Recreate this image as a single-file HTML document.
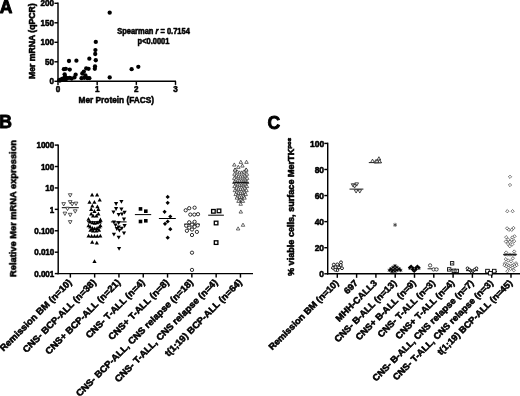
<!DOCTYPE html>
<html><head><meta charset="utf-8"><title>Figure</title>
<style>
html,body{margin:0;padding:0;background:#fff;}
svg{display:block;}
svg text{font-family:"Liberation Sans",Arial,sans-serif;font-weight:bold;fill:#000;stroke:#000;stroke-width:0.55px;stroke-linejoin:round;}
</style></head><body>
<svg width="520" height="396" viewBox="0 0 520 396">
<defs><filter id="soft" x="-5%" y="-5%" width="110%" height="110%"><feGaussianBlur stdDeviation="0.32"/></filter></defs>
<rect width="520" height="396" fill="#fff"/>
<g filter="url(#soft)">
<text transform="translate(-0.20,12.80) scale(0.9709,1)" font-size="18.13" text-anchor="start" style="stroke-width:0.9px">A</text>
<line x1="58.00" y1="2.57" x2="58.00" y2="82.02" stroke="#000" stroke-width="1.45"/>
<line x1="57.27" y1="81.30" x2="176.03" y2="81.30" stroke="#000" stroke-width="1.45"/>
<line x1="54.40" y1="81.30" x2="58.00" y2="81.30" stroke="#000" stroke-width="1.45"/>
<text transform="translate(54.10,84.00) scale(0.9091,1)" font-size="8.91" text-anchor="end" >0</text>
<line x1="54.40" y1="61.80" x2="58.00" y2="61.80" stroke="#000" stroke-width="1.45"/>
<text transform="translate(54.10,64.50) scale(0.9091,1)" font-size="8.91" text-anchor="end" >50</text>
<line x1="54.40" y1="42.30" x2="58.00" y2="42.30" stroke="#000" stroke-width="1.45"/>
<text transform="translate(54.10,45.00) scale(0.9091,1)" font-size="8.91" text-anchor="end" >100</text>
<line x1="54.40" y1="22.80" x2="58.00" y2="22.80" stroke="#000" stroke-width="1.45"/>
<text transform="translate(54.10,25.50) scale(0.9091,1)" font-size="8.91" text-anchor="end" >150</text>
<line x1="54.40" y1="3.30" x2="58.00" y2="3.30" stroke="#000" stroke-width="1.45"/>
<text transform="translate(54.10,6.00) scale(0.9091,1)" font-size="8.91" text-anchor="end" >200</text>
<line x1="58.00" y1="81.30" x2="58.00" y2="84.90" stroke="#000" stroke-width="1.45"/>
<text transform="translate(58.00,92.30) scale(0.9091,1)" font-size="8.91" text-anchor="middle" >0</text>
<line x1="97.17" y1="81.30" x2="97.17" y2="84.90" stroke="#000" stroke-width="1.45"/>
<text transform="translate(97.17,92.30) scale(0.9091,1)" font-size="8.91" text-anchor="middle" >1</text>
<line x1="136.34" y1="81.30" x2="136.34" y2="84.90" stroke="#000" stroke-width="1.45"/>
<text transform="translate(136.34,92.30) scale(0.9091,1)" font-size="8.91" text-anchor="middle" >2</text>
<line x1="175.51" y1="81.30" x2="175.51" y2="84.90" stroke="#000" stroke-width="1.45"/>
<text transform="translate(175.51,92.30) scale(0.9091,1)" font-size="8.91" text-anchor="middle" >3</text>
<text transform="translate(116.30,103.40) scale(0.9091,1)" font-size="9.13" text-anchor="middle" >Mer Protein (FACS)</text>
<text transform="translate(34.60,41.20) rotate(-90) scale(1.0309,1)" font-size="8.39" text-anchor="middle" >Mer mRNA (qPCR)</text>
<text transform="translate(153.50,33.60) scale(0.9091,1)" font-size="8.25" text-anchor="middle" >Spearman <tspan font-style="italic">r</tspan> = 0.7154</text>
<text transform="translate(153.50,43.60) scale(0.9091,1)" font-size="8.25" text-anchor="middle" >p&lt;0.0001</text>
<circle cx="109.70" cy="12.66" r="2.15" fill="#000" stroke="none" stroke-width="0"/>
<circle cx="109.70" cy="77.40" r="2.15" fill="#000" stroke="none" stroke-width="0"/>
<circle cx="131.64" cy="69.21" r="2.15" fill="#000" stroke="none" stroke-width="0"/>
<circle cx="138.30" cy="66.87" r="2.15" fill="#000" stroke="none" stroke-width="0"/>
<circle cx="95.80" cy="41.91" r="2.15" fill="#000" stroke="none" stroke-width="0"/>
<circle cx="95.41" cy="50.10" r="2.15" fill="#000" stroke="none" stroke-width="0"/>
<circle cx="95.21" cy="54.00" r="2.15" fill="#000" stroke="none" stroke-width="0"/>
<circle cx="95.80" cy="60.24" r="2.15" fill="#000" stroke="none" stroke-width="0"/>
<circle cx="95.02" cy="66.48" r="2.15" fill="#000" stroke="none" stroke-width="0"/>
<circle cx="94.82" cy="68.82" r="2.15" fill="#000" stroke="none" stroke-width="0"/>
<circle cx="89.34" cy="58.68" r="2.15" fill="#000" stroke="none" stroke-width="0"/>
<circle cx="76.41" cy="60.63" r="2.15" fill="#000" stroke="none" stroke-width="0"/>
<circle cx="68.97" cy="61.02" r="2.15" fill="#000" stroke="none" stroke-width="0"/>
<circle cx="63.88" cy="69.21" r="2.15" fill="#000" stroke="none" stroke-width="0"/>
<circle cx="65.83" cy="68.82" r="2.15" fill="#000" stroke="none" stroke-width="0"/>
<circle cx="69.75" cy="69.60" r="2.15" fill="#000" stroke="none" stroke-width="0"/>
<circle cx="86.20" cy="68.43" r="2.15" fill="#000" stroke="none" stroke-width="0"/>
<circle cx="88.55" cy="68.82" r="2.15" fill="#000" stroke="none" stroke-width="0"/>
<circle cx="82.29" cy="73.50" r="2.15" fill="#000" stroke="none" stroke-width="0"/>
<circle cx="83.85" cy="71.55" r="2.15" fill="#000" stroke="none" stroke-width="0"/>
<circle cx="85.42" cy="75.45" r="2.15" fill="#000" stroke="none" stroke-width="0"/>
<circle cx="64.66" cy="74.28" r="2.15" fill="#000" stroke="none" stroke-width="0"/>
<circle cx="65.05" cy="76.62" r="2.15" fill="#000" stroke="none" stroke-width="0"/>
<circle cx="75.63" cy="74.67" r="2.15" fill="#000" stroke="none" stroke-width="0"/>
<circle cx="74.45" cy="77.40" r="2.15" fill="#000" stroke="none" stroke-width="0"/>
<circle cx="69.75" cy="77.79" r="2.15" fill="#000" stroke="none" stroke-width="0"/>
<circle cx="67.40" cy="78.18" r="2.15" fill="#000" stroke="none" stroke-width="0"/>
<circle cx="62.70" cy="78.57" r="2.15" fill="#000" stroke="none" stroke-width="0"/>
<circle cx="61.13" cy="79.35" r="2.15" fill="#000" stroke="none" stroke-width="0"/>
<circle cx="59.18" cy="80.13" r="2.15" fill="#000" stroke="none" stroke-width="0"/>
<circle cx="81.50" cy="78.18" r="2.15" fill="#000" stroke="none" stroke-width="0"/>
<circle cx="87.38" cy="78.18" r="2.15" fill="#000" stroke="none" stroke-width="0"/>
<circle cx="89.34" cy="78.18" r="2.15" fill="#000" stroke="none" stroke-width="0"/>
<circle cx="71.71" cy="78.57" r="2.15" fill="#000" stroke="none" stroke-width="0"/>
<circle cx="65.83" cy="79.35" r="2.15" fill="#000" stroke="none" stroke-width="0"/>
<circle cx="63.88" cy="79.74" r="2.15" fill="#000" stroke="none" stroke-width="0"/>
<circle cx="59.96" cy="80.52" r="2.15" fill="#000" stroke="none" stroke-width="0"/>
<circle cx="84.24" cy="77.79" r="2.15" fill="#000" stroke="none" stroke-width="0"/>
<text transform="translate(-0.80,128.40) scale(0.9709,1)" font-size="18.13" text-anchor="start" style="stroke-width:0.9px">B</text>
<line x1="58.20" y1="144.38" x2="58.20" y2="274.33" stroke="#000" stroke-width="1.45"/>
<line x1="57.48" y1="273.60" x2="253.00" y2="273.60" stroke="#000" stroke-width="1.45"/>
<line x1="54.80" y1="145.10" x2="58.20" y2="145.10" stroke="#000" stroke-width="1.45"/>
<text transform="translate(54.30,148.40) scale(0.9091,1)" font-size="8.86" text-anchor="end" >1000</text>
<line x1="54.80" y1="166.52" x2="58.20" y2="166.52" stroke="#000" stroke-width="1.45"/>
<text transform="translate(54.30,169.82) scale(0.9091,1)" font-size="8.86" text-anchor="end" >100</text>
<line x1="54.80" y1="187.93" x2="58.20" y2="187.93" stroke="#000" stroke-width="1.45"/>
<text transform="translate(54.30,191.23) scale(0.9091,1)" font-size="8.86" text-anchor="end" >10</text>
<line x1="54.80" y1="209.35" x2="58.20" y2="209.35" stroke="#000" stroke-width="1.45"/>
<text transform="translate(54.30,212.65) scale(0.9091,1)" font-size="8.86" text-anchor="end" >1</text>
<line x1="54.80" y1="230.77" x2="58.20" y2="230.77" stroke="#000" stroke-width="1.45"/>
<text transform="translate(54.30,234.07) scale(0.9091,1)" font-size="8.86" text-anchor="end" >0.100</text>
<line x1="54.80" y1="252.18" x2="58.20" y2="252.18" stroke="#000" stroke-width="1.45"/>
<text transform="translate(54.30,255.48) scale(0.9091,1)" font-size="8.86" text-anchor="end" >0.010</text>
<line x1="54.80" y1="273.60" x2="58.20" y2="273.60" stroke="#000" stroke-width="1.45"/>
<text transform="translate(54.30,276.90) scale(0.9091,1)" font-size="8.86" text-anchor="end" >0.001</text>
<line x1="70.35" y1="273.60" x2="70.35" y2="277.60" stroke="#000" stroke-width="1.45"/>
<text transform="translate(72.35,283.00) rotate(-45) scale(1.0417,1)" font-size="9.22" text-anchor="end" >Remission BM (n=10)</text>
<line x1="94.65" y1="273.60" x2="94.65" y2="277.60" stroke="#000" stroke-width="1.45"/>
<text transform="translate(96.65,283.00) rotate(-45) scale(1.0417,1)" font-size="9.22" text-anchor="end" >CNS- BCP-ALL (n=38)</text>
<line x1="118.95" y1="273.60" x2="118.95" y2="277.60" stroke="#000" stroke-width="1.45"/>
<text transform="translate(120.95,283.00) rotate(-45) scale(1.0417,1)" font-size="9.22" text-anchor="end" >CNS+ BCP-ALL (n=21)</text>
<line x1="143.25" y1="273.60" x2="143.25" y2="277.60" stroke="#000" stroke-width="1.45"/>
<text transform="translate(145.25,283.00) rotate(-45) scale(1.0417,1)" font-size="9.22" text-anchor="end" >CNS- T-ALL (n=4)</text>
<line x1="167.55" y1="273.60" x2="167.55" y2="277.60" stroke="#000" stroke-width="1.45"/>
<text transform="translate(169.55,283.00) rotate(-45) scale(1.0417,1)" font-size="9.22" text-anchor="end" >CNS+ T-ALL (n=8)</text>
<line x1="191.85" y1="273.60" x2="191.85" y2="277.60" stroke="#000" stroke-width="1.45"/>
<text transform="translate(193.85,283.00) rotate(-45) scale(1.0417,1)" font-size="9.22" text-anchor="end" >CNS- BCP-ALL, CNS relapse (n=18)</text>
<line x1="216.15" y1="273.60" x2="216.15" y2="277.60" stroke="#000" stroke-width="1.45"/>
<text transform="translate(218.15,283.00) rotate(-45) scale(1.0417,1)" font-size="9.22" text-anchor="end" >CNS- T-ALL, CNS relapse (n=4)</text>
<line x1="240.45" y1="273.60" x2="240.45" y2="277.60" stroke="#000" stroke-width="1.45"/>
<text transform="translate(242.45,283.00) rotate(-45) scale(1.0417,1)" font-size="9.22" text-anchor="end" >t(1;19) BCP-ALL (n=64)</text>
<text transform="translate(16.20,208.50) rotate(-90) scale(1.0526,1)" font-size="8.84" text-anchor="middle" >Relative Mer mRNA expression</text>
<line x1="61.80" y1="207.70" x2="78.80" y2="207.70" stroke="#000" stroke-width="1.0"/>
<polygon points="68.35,193.74 72.05,193.74 70.20,197.06" fill="#fff" stroke="#222" stroke-width="0.75"/>
<polygon points="68.35,200.64 72.05,200.64 70.20,203.97" fill="#fff" stroke="#222" stroke-width="0.75"/>
<polygon points="61.85,202.64 65.55,202.64 63.70,205.97" fill="#fff" stroke="#222" stroke-width="0.75"/>
<polygon points="70.35,202.64 74.05,202.64 72.20,205.97" fill="#fff" stroke="#222" stroke-width="0.75"/>
<polygon points="74.15,202.14 77.85,202.14 76.00,205.47" fill="#fff" stroke="#222" stroke-width="0.75"/>
<polygon points="65.65,207.24 69.35,207.24 67.50,210.56" fill="#fff" stroke="#222" stroke-width="0.75"/>
<polygon points="73.35,209.84 77.05,209.84 75.20,213.16" fill="#fff" stroke="#222" stroke-width="0.75"/>
<polygon points="63.05,212.14 66.75,212.14 64.90,215.47" fill="#fff" stroke="#222" stroke-width="0.75"/>
<polygon points="68.35,213.34 72.05,213.34 70.20,216.66" fill="#fff" stroke="#222" stroke-width="0.75"/>
<polygon points="68.35,220.64 72.05,220.64 70.20,223.97" fill="#fff" stroke="#222" stroke-width="0.75"/>
<line x1="87.00" y1="221.70" x2="102.30" y2="221.70" stroke="#000" stroke-width="1.0"/>
<polygon points="90.00,196.49 94.20,196.49 92.10,192.71" fill="#000" stroke="none" stroke-width="0"/>
<polygon points="95.00,196.49 99.20,196.49 97.10,192.71" fill="#000" stroke="none" stroke-width="0"/>
<polygon points="97.60,201.49 101.80,201.49 99.70,197.71" fill="#000" stroke="none" stroke-width="0"/>
<polygon points="87.40,203.69 91.60,203.69 89.50,199.91" fill="#000" stroke="none" stroke-width="0"/>
<polygon points="92.30,203.69 96.50,203.69 94.40,199.91" fill="#000" stroke="none" stroke-width="0"/>
<polygon points="90.20,207.49 94.40,207.49 92.30,203.71" fill="#000" stroke="none" stroke-width="0"/>
<polygon points="95.30,208.29 99.50,208.29 97.40,204.51" fill="#000" stroke="none" stroke-width="0"/>
<polygon points="89.10,210.89 93.30,210.89 91.20,207.11" fill="#000" stroke="none" stroke-width="0"/>
<polygon points="96.30,210.89 100.50,210.89 98.40,207.11" fill="#000" stroke="none" stroke-width="0"/>
<polygon points="92.30,212.89 96.50,212.89 94.40,209.11" fill="#000" stroke="none" stroke-width="0"/>
<polygon points="89.10,215.49 93.30,215.49 91.20,211.71" fill="#000" stroke="none" stroke-width="0"/>
<polygon points="96.30,215.49 100.50,215.49 98.40,211.71" fill="#000" stroke="none" stroke-width="0"/>
<polygon points="91.00,217.49 95.20,217.49 93.10,213.71" fill="#000" stroke="none" stroke-width="0"/>
<polygon points="94.30,217.49 98.50,217.49 96.40,213.71" fill="#000" stroke="none" stroke-width="0"/>
<polygon points="86.40,220.79 90.60,220.79 88.50,217.01" fill="#000" stroke="none" stroke-width="0"/>
<polygon points="98.30,221.39 102.50,221.39 100.40,217.61" fill="#000" stroke="none" stroke-width="0"/>
<polygon points="87.70,223.39 91.90,223.39 89.80,219.61" fill="#000" stroke="none" stroke-width="0"/>
<polygon points="90.40,224.29 94.60,224.29 92.50,220.51" fill="#000" stroke="none" stroke-width="0"/>
<polygon points="92.60,224.69 96.80,224.69 94.70,220.91" fill="#000" stroke="none" stroke-width="0"/>
<polygon points="95.00,224.29 99.20,224.29 97.10,220.51" fill="#000" stroke="none" stroke-width="0"/>
<polygon points="97.60,223.39 101.80,223.39 99.70,219.61" fill="#000" stroke="none" stroke-width="0"/>
<polygon points="86.40,227.29 90.60,227.29 88.50,223.51" fill="#000" stroke="none" stroke-width="0"/>
<polygon points="98.30,227.29 102.50,227.29 100.40,223.51" fill="#000" stroke="none" stroke-width="0"/>
<polygon points="88.10,228.59 92.30,228.59 90.20,224.81" fill="#000" stroke="none" stroke-width="0"/>
<polygon points="90.40,229.89 94.60,229.89 92.50,226.11" fill="#000" stroke="none" stroke-width="0"/>
<polygon points="92.60,230.29 96.80,230.29 94.70,226.51" fill="#000" stroke="none" stroke-width="0"/>
<polygon points="95.00,229.89 99.20,229.89 97.10,226.11" fill="#000" stroke="none" stroke-width="0"/>
<polygon points="97.30,228.59 101.50,228.59 99.40,224.81" fill="#000" stroke="none" stroke-width="0"/>
<polygon points="88.40,231.69 92.60,231.69 90.50,227.91" fill="#000" stroke="none" stroke-width="0"/>
<polygon points="91.00,232.59 95.20,232.59 93.10,228.81" fill="#000" stroke="none" stroke-width="0"/>
<polygon points="94.30,232.59 98.50,232.59 96.40,228.81" fill="#000" stroke="none" stroke-width="0"/>
<polygon points="96.90,231.69 101.10,231.69 99.00,227.91" fill="#000" stroke="none" stroke-width="0"/>
<polygon points="86.50,237.59 90.70,237.59 88.60,233.81" fill="#000" stroke="none" stroke-width="0"/>
<polygon points="89.50,237.79 93.70,237.79 91.60,234.01" fill="#000" stroke="none" stroke-width="0"/>
<polygon points="92.40,237.79 96.60,237.79 94.50,234.01" fill="#000" stroke="none" stroke-width="0"/>
<polygon points="95.20,237.79 99.40,237.79 97.30,234.01" fill="#000" stroke="none" stroke-width="0"/>
<polygon points="98.20,237.59 102.40,237.59 100.30,233.81" fill="#000" stroke="none" stroke-width="0"/>
<polygon points="90.10,243.79 94.30,243.79 92.20,240.01" fill="#000" stroke="none" stroke-width="0"/>
<polygon points="94.70,244.59 98.90,244.59 96.80,240.81" fill="#000" stroke="none" stroke-width="0"/>
<polygon points="92.40,263.09 96.60,263.09 94.50,259.31" fill="#000" stroke="none" stroke-width="0"/>
<line x1="110.90" y1="221.90" x2="126.60" y2="221.90" stroke="#000" stroke-width="1.0"/>
<polygon points="119.30,199.91 123.50,199.91 121.40,203.69" fill="#000" stroke="none" stroke-width="0"/>
<polygon points="114.00,202.11 118.20,202.11 116.10,205.89" fill="#000" stroke="none" stroke-width="0"/>
<polygon points="114.00,207.11 118.20,207.11 116.10,210.89" fill="#000" stroke="none" stroke-width="0"/>
<polygon points="119.30,207.51 123.50,207.51 121.40,211.29" fill="#000" stroke="none" stroke-width="0"/>
<polygon points="111.40,210.41 115.60,210.41 113.50,214.19" fill="#000" stroke="none" stroke-width="0"/>
<polygon points="122.50,210.81 126.70,210.81 124.60,214.59" fill="#000" stroke="none" stroke-width="0"/>
<polygon points="116.60,213.01 120.80,213.01 118.70,216.79" fill="#000" stroke="none" stroke-width="0"/>
<polygon points="119.90,212.41 124.10,212.41 122.00,216.19" fill="#000" stroke="none" stroke-width="0"/>
<polygon points="121.90,217.61 126.10,217.61 124.00,221.39" fill="#000" stroke="none" stroke-width="0"/>
<polygon points="111.80,220.51 116.00,220.51 113.90,224.29" fill="#000" stroke="none" stroke-width="0"/>
<polygon points="116.60,221.31 120.80,221.31 118.70,225.09" fill="#000" stroke="none" stroke-width="0"/>
<polygon points="113.40,223.51 117.60,223.51 115.50,227.29" fill="#000" stroke="none" stroke-width="0"/>
<polygon points="122.50,224.11 126.70,224.11 124.60,227.89" fill="#000" stroke="none" stroke-width="0"/>
<polygon points="116.60,225.51 120.80,225.51 118.70,229.29" fill="#000" stroke="none" stroke-width="0"/>
<polygon points="114.70,227.11 118.90,227.11 116.80,230.89" fill="#000" stroke="none" stroke-width="0"/>
<polygon points="119.70,226.81 123.90,226.81 121.80,230.59" fill="#000" stroke="none" stroke-width="0"/>
<polygon points="117.30,228.81 121.50,228.81 119.40,232.59" fill="#000" stroke="none" stroke-width="0"/>
<polygon points="121.90,231.41 126.10,231.41 124.00,235.19" fill="#000" stroke="none" stroke-width="0"/>
<polygon points="111.80,232.71 116.00,232.71 113.90,236.49" fill="#000" stroke="none" stroke-width="0"/>
<polygon points="116.60,235.71 120.80,235.71 118.70,239.49" fill="#000" stroke="none" stroke-width="0"/>
<polygon points="117.00,246.91 121.20,246.91 119.10,250.69" fill="#000" stroke="none" stroke-width="0"/>
<line x1="134.90" y1="214.60" x2="151.20" y2="214.60" stroke="#000" stroke-width="1.0"/>
<rect x="138.70" y="207.10" width="3.6" height="3.6" fill="#000" stroke="none" stroke-width="0"/>
<rect x="144.00" y="209.40" width="3.6" height="3.6" fill="#000" stroke="none" stroke-width="0"/>
<rect x="138.70" y="219.70" width="3.6" height="3.6" fill="#000" stroke="none" stroke-width="0"/>
<rect x="144.00" y="219.00" width="3.6" height="3.6" fill="#000" stroke="none" stroke-width="0"/>
<line x1="158.90" y1="218.50" x2="175.80" y2="218.50" stroke="#000" stroke-width="1.0"/>
<polygon points="165.60,196.90 167.70,194.80 169.80,196.90 167.70,199.00" fill="#000" stroke="none" stroke-width="0"/>
<polygon points="165.60,202.80 167.70,200.70 169.80,202.80 167.70,204.90" fill="#000" stroke="none" stroke-width="0"/>
<polygon points="162.50,211.80 164.60,209.70 166.70,211.80 164.60,213.90" fill="#000" stroke="none" stroke-width="0"/>
<polygon points="168.20,216.50 170.30,214.40 172.40,216.50 170.30,218.60" fill="#000" stroke="none" stroke-width="0"/>
<polygon points="165.60,221.50 167.70,219.40 169.80,221.50 167.70,223.60" fill="#000" stroke="none" stroke-width="0"/>
<polygon points="162.90,223.80 165.00,221.70 167.10,223.80 165.00,225.90" fill="#000" stroke="none" stroke-width="0"/>
<polygon points="168.20,229.20 170.30,227.10 172.40,229.20 170.30,231.30" fill="#000" stroke="none" stroke-width="0"/>
<polygon points="165.60,237.70 167.70,235.60 169.80,237.70 167.70,239.80" fill="#000" stroke="none" stroke-width="0"/>
<line x1="184.00" y1="224.20" x2="200.00" y2="224.20" stroke="#000" stroke-width="1.0"/>
<circle cx="185.70" cy="210.30" r="1.65" fill="#fff" stroke="#000" stroke-width="0.8"/>
<circle cx="189.20" cy="208.20" r="1.65" fill="#fff" stroke="#000" stroke-width="0.8"/>
<circle cx="194.60" cy="207.70" r="1.65" fill="#fff" stroke="#000" stroke-width="0.8"/>
<circle cx="190.30" cy="214.60" r="1.65" fill="#fff" stroke="#000" stroke-width="0.8"/>
<circle cx="194.30" cy="214.60" r="1.65" fill="#fff" stroke="#000" stroke-width="0.8"/>
<circle cx="198.00" cy="214.20" r="1.65" fill="#fff" stroke="#000" stroke-width="0.8"/>
<circle cx="189.20" cy="222.30" r="1.65" fill="#fff" stroke="#000" stroke-width="0.8"/>
<circle cx="194.60" cy="221.80" r="1.65" fill="#fff" stroke="#000" stroke-width="0.8"/>
<circle cx="186.20" cy="225.70" r="1.65" fill="#fff" stroke="#000" stroke-width="0.8"/>
<circle cx="192.00" cy="224.60" r="1.65" fill="#fff" stroke="#000" stroke-width="0.8"/>
<circle cx="197.70" cy="225.40" r="1.65" fill="#fff" stroke="#000" stroke-width="0.8"/>
<circle cx="189.20" cy="227.70" r="1.65" fill="#fff" stroke="#000" stroke-width="0.8"/>
<circle cx="194.60" cy="226.90" r="1.65" fill="#fff" stroke="#000" stroke-width="0.8"/>
<circle cx="186.90" cy="230.80" r="1.65" fill="#fff" stroke="#000" stroke-width="0.8"/>
<circle cx="192.00" cy="229.50" r="1.65" fill="#fff" stroke="#000" stroke-width="0.8"/>
<circle cx="196.90" cy="231.90" r="1.65" fill="#fff" stroke="#000" stroke-width="0.8"/>
<circle cx="192.00" cy="235.00" r="1.65" fill="#fff" stroke="#000" stroke-width="0.8"/>
<circle cx="192.00" cy="252.70" r="1.65" fill="#fff" stroke="#000" stroke-width="0.8"/>
<circle cx="192.00" cy="269.90" r="1.65" fill="#fff" stroke="#000" stroke-width="0.8"/>
<line x1="208.20" y1="215.20" x2="223.90" y2="215.20" stroke="#000" stroke-width="1.0"/>
<rect x="211.60" y="209.50" width="3.6" height="3.6" fill="#fff" stroke="#000" stroke-width="1.3"/>
<rect x="217.20" y="209.10" width="3.6" height="3.6" fill="#fff" stroke="#000" stroke-width="1.3"/>
<rect x="214.30" y="221.20" width="3.6" height="3.6" fill="#fff" stroke="#000" stroke-width="1.3"/>
<rect x="214.30" y="240.80" width="3.6" height="3.6" fill="#fff" stroke="#000" stroke-width="1.3"/>
<polygon points="239.05,163.38 242.55,163.38 240.80,160.23" fill="#fff" stroke="#111" stroke-width="0.62"/>
<polygon points="244.75,163.38 248.25,163.38 246.50,160.23" fill="#fff" stroke="#111" stroke-width="0.62"/>
<polygon points="232.55,166.07 236.05,166.07 234.30,162.93" fill="#fff" stroke="#111" stroke-width="0.62"/>
<polygon points="236.55,168.38 240.05,168.38 238.30,165.23" fill="#fff" stroke="#111" stroke-width="0.62"/>
<polygon points="240.65,167.07 244.15,167.07 242.40,163.93" fill="#fff" stroke="#111" stroke-width="0.62"/>
<polygon points="233.25,171.07 236.75,171.07 235.00,167.93" fill="#fff" stroke="#111" stroke-width="0.62"/>
<polygon points="244.35,171.07 247.85,171.07 246.10,167.93" fill="#fff" stroke="#111" stroke-width="0.62"/>
<polygon points="233.35,171.17 236.85,171.17 235.10,168.03" fill="#fff" stroke="#111" stroke-width="0.62"/>
<polygon points="235.59,173.03 239.09,173.03 237.34,169.88" fill="#fff" stroke="#111" stroke-width="0.62"/>
<polygon points="237.83,173.96 241.33,173.96 239.58,170.81" fill="#fff" stroke="#111" stroke-width="0.62"/>
<polygon points="240.07,173.96 243.57,173.96 241.82,170.81" fill="#fff" stroke="#111" stroke-width="0.62"/>
<polygon points="242.31,173.03 245.81,173.03 244.06,169.88" fill="#fff" stroke="#111" stroke-width="0.62"/>
<polygon points="244.55,171.17 248.05,171.17 246.30,168.03" fill="#fff" stroke="#111" stroke-width="0.62"/>
<polygon points="232.75,175.28 236.25,175.28 234.50,172.13" fill="#fff" stroke="#111" stroke-width="0.62"/>
<polygon points="234.82,176.89 238.32,176.89 236.57,173.74" fill="#fff" stroke="#111" stroke-width="0.62"/>
<polygon points="236.88,177.85 240.38,177.85 238.63,174.70" fill="#fff" stroke="#111" stroke-width="0.62"/>
<polygon points="238.95,178.18 242.45,178.18 240.70,175.03" fill="#fff" stroke="#111" stroke-width="0.62"/>
<polygon points="241.02,177.85 244.52,177.85 242.77,174.70" fill="#fff" stroke="#111" stroke-width="0.62"/>
<polygon points="243.08,176.89 246.58,176.89 244.83,173.74" fill="#fff" stroke="#111" stroke-width="0.62"/>
<polygon points="245.15,175.28 248.65,175.28 246.90,172.13" fill="#fff" stroke="#111" stroke-width="0.62"/>
<polygon points="232.55,179.38 236.05,179.38 234.30,176.23" fill="#fff" stroke="#111" stroke-width="0.62"/>
<polygon points="234.38,180.80 237.88,180.80 236.13,177.65" fill="#fff" stroke="#111" stroke-width="0.62"/>
<polygon points="236.21,181.74 239.71,181.74 237.96,178.59" fill="#fff" stroke="#111" stroke-width="0.62"/>
<polygon points="238.04,182.22 241.54,182.22 239.79,179.07" fill="#fff" stroke="#111" stroke-width="0.62"/>
<polygon points="239.86,182.22 243.36,182.22 241.61,179.07" fill="#fff" stroke="#111" stroke-width="0.62"/>
<polygon points="241.69,181.74 245.19,181.74 243.44,178.59" fill="#fff" stroke="#111" stroke-width="0.62"/>
<polygon points="243.52,180.80 247.02,180.80 245.27,177.65" fill="#fff" stroke="#111" stroke-width="0.62"/>
<polygon points="245.35,179.38 248.85,179.38 247.10,176.23" fill="#fff" stroke="#111" stroke-width="0.62"/>
<polygon points="232.55,183.47 236.05,183.47 234.30,180.33" fill="#fff" stroke="#111" stroke-width="0.62"/>
<polygon points="234.38,184.90 237.88,184.90 236.13,181.75" fill="#fff" stroke="#111" stroke-width="0.62"/>
<polygon points="236.21,185.84 239.71,185.84 237.96,182.69" fill="#fff" stroke="#111" stroke-width="0.62"/>
<polygon points="238.04,186.32 241.54,186.32 239.79,183.17" fill="#fff" stroke="#111" stroke-width="0.62"/>
<polygon points="239.86,186.32 243.36,186.32 241.61,183.17" fill="#fff" stroke="#111" stroke-width="0.62"/>
<polygon points="241.69,185.84 245.19,185.84 243.44,182.69" fill="#fff" stroke="#111" stroke-width="0.62"/>
<polygon points="243.52,184.90 247.02,184.90 245.27,181.75" fill="#fff" stroke="#111" stroke-width="0.62"/>
<polygon points="245.35,183.47 248.85,183.47 247.10,180.33" fill="#fff" stroke="#111" stroke-width="0.62"/>
<polygon points="232.75,187.57 236.25,187.57 234.50,184.43" fill="#fff" stroke="#111" stroke-width="0.62"/>
<polygon points="234.82,189.19 238.32,189.19 236.57,186.04" fill="#fff" stroke="#111" stroke-width="0.62"/>
<polygon points="236.88,190.15 240.38,190.15 238.63,187.00" fill="#fff" stroke="#111" stroke-width="0.62"/>
<polygon points="238.95,190.47 242.45,190.47 240.70,187.33" fill="#fff" stroke="#111" stroke-width="0.62"/>
<polygon points="241.02,190.15 244.52,190.15 242.77,187.00" fill="#fff" stroke="#111" stroke-width="0.62"/>
<polygon points="243.08,189.19 246.58,189.19 244.83,186.04" fill="#fff" stroke="#111" stroke-width="0.62"/>
<polygon points="245.15,187.57 248.65,187.57 246.90,184.43" fill="#fff" stroke="#111" stroke-width="0.62"/>
<polygon points="233.15,191.67 236.65,191.67 234.90,188.53" fill="#fff" stroke="#111" stroke-width="0.62"/>
<polygon points="235.08,193.29 238.58,193.29 236.83,190.14" fill="#fff" stroke="#111" stroke-width="0.62"/>
<polygon points="237.02,194.25 240.52,194.25 238.77,191.10" fill="#fff" stroke="#111" stroke-width="0.62"/>
<polygon points="238.95,194.57 242.45,194.57 240.70,191.43" fill="#fff" stroke="#111" stroke-width="0.62"/>
<polygon points="240.88,194.25 244.38,194.25 242.63,191.10" fill="#fff" stroke="#111" stroke-width="0.62"/>
<polygon points="242.82,193.29 246.32,193.29 244.57,190.14" fill="#fff" stroke="#111" stroke-width="0.62"/>
<polygon points="244.75,191.67 248.25,191.67 246.50,188.53" fill="#fff" stroke="#111" stroke-width="0.62"/>
<polygon points="233.95,195.57 237.45,195.57 235.70,192.43" fill="#fff" stroke="#111" stroke-width="0.62"/>
<polygon points="235.95,197.43 239.45,197.43 237.70,194.28" fill="#fff" stroke="#111" stroke-width="0.62"/>
<polygon points="237.95,198.36 241.45,198.36 239.70,195.21" fill="#fff" stroke="#111" stroke-width="0.62"/>
<polygon points="239.95,198.36 243.45,198.36 241.70,195.21" fill="#fff" stroke="#111" stroke-width="0.62"/>
<polygon points="241.95,197.43 245.45,197.43 243.70,194.28" fill="#fff" stroke="#111" stroke-width="0.62"/>
<polygon points="243.95,195.57 247.45,195.57 245.70,192.43" fill="#fff" stroke="#111" stroke-width="0.62"/>
<polygon points="235.15,199.17 238.65,199.17 236.90,196.03" fill="#fff" stroke="#111" stroke-width="0.62"/>
<polygon points="237.68,201.75 241.18,201.75 239.43,198.60" fill="#fff" stroke="#111" stroke-width="0.62"/>
<polygon points="240.22,201.75 243.72,201.75 241.97,198.60" fill="#fff" stroke="#111" stroke-width="0.62"/>
<polygon points="242.75,199.17 246.25,199.17 244.50,196.03" fill="#fff" stroke="#111" stroke-width="0.62"/>
<polygon points="236.75,202.38 240.25,202.38 238.50,199.23" fill="#fff" stroke="#111" stroke-width="0.62"/>
<polygon points="238.95,205.28 242.45,205.28 240.70,202.13" fill="#fff" stroke="#111" stroke-width="0.62"/>
<polygon points="241.15,202.38 244.65,202.38 242.90,199.23" fill="#fff" stroke="#111" stroke-width="0.62"/>
<polygon points="239.05,213.07 242.55,213.07 240.80,209.93" fill="#fff" stroke="#111" stroke-width="0.62"/>
<polygon points="241.25,226.27 244.75,226.27 243.00,223.12" fill="#fff" stroke="#111" stroke-width="0.62"/>
<polygon points="236.35,229.97 239.85,229.97 238.10,226.83" fill="#fff" stroke="#111" stroke-width="0.62"/>
<line x1="233.00" y1="182.70" x2="248.60" y2="182.70" stroke="#000" stroke-width="1.0"/>
<text transform="translate(267.60,129.20) scale(0.9709,1)" font-size="18.13" text-anchor="start" style="stroke-width:0.9px">C</text>
<line x1="327.70" y1="142.68" x2="327.70" y2="274.53" stroke="#000" stroke-width="1.45"/>
<line x1="326.97" y1="273.80" x2="520.00" y2="273.80" stroke="#000" stroke-width="1.45"/>
<line x1="324.30" y1="143.40" x2="327.70" y2="143.40" stroke="#000" stroke-width="1.45"/>
<text transform="translate(324.10,146.80) scale(0.9091,1)" font-size="9.35" text-anchor="end" >100</text>
<line x1="324.30" y1="169.48" x2="327.70" y2="169.48" stroke="#000" stroke-width="1.45"/>
<text transform="translate(324.10,172.88) scale(0.9091,1)" font-size="9.35" text-anchor="end" >80</text>
<line x1="324.30" y1="195.56" x2="327.70" y2="195.56" stroke="#000" stroke-width="1.45"/>
<text transform="translate(324.10,198.96) scale(0.9091,1)" font-size="9.35" text-anchor="end" >60</text>
<line x1="324.30" y1="221.64" x2="327.70" y2="221.64" stroke="#000" stroke-width="1.45"/>
<text transform="translate(324.10,225.04) scale(0.9091,1)" font-size="9.35" text-anchor="end" >40</text>
<line x1="324.30" y1="247.72" x2="327.70" y2="247.72" stroke="#000" stroke-width="1.45"/>
<text transform="translate(324.10,251.12) scale(0.9091,1)" font-size="9.35" text-anchor="end" >20</text>
<line x1="324.30" y1="273.80" x2="327.70" y2="273.80" stroke="#000" stroke-width="1.45"/>
<text transform="translate(324.10,277.20) scale(0.9091,1)" font-size="9.35" text-anchor="end" >0</text>
<line x1="337.30" y1="273.80" x2="337.30" y2="277.80" stroke="#000" stroke-width="1.45"/>
<text transform="translate(339.20,283.60) rotate(-45) scale(1.0417,1)" font-size="8.98" text-anchor="end" >Remission BM (n=10)</text>
<line x1="356.60" y1="273.80" x2="356.60" y2="277.80" stroke="#000" stroke-width="1.45"/>
<text transform="translate(358.50,283.60) rotate(-45) scale(1.0417,1)" font-size="8.98" text-anchor="end" >697</text>
<line x1="375.90" y1="273.80" x2="375.90" y2="277.80" stroke="#000" stroke-width="1.45"/>
<text transform="translate(377.80,283.60) rotate(-45) scale(1.0417,1)" font-size="8.98" text-anchor="end" >MHH-CALL3</text>
<line x1="395.20" y1="273.80" x2="395.20" y2="277.80" stroke="#000" stroke-width="1.45"/>
<text transform="translate(397.10,283.60) rotate(-45) scale(1.0417,1)" font-size="8.98" text-anchor="end" >CNS- B-ALL (n=13)</text>
<line x1="414.50" y1="273.80" x2="414.50" y2="277.80" stroke="#000" stroke-width="1.45"/>
<text transform="translate(416.40,283.60) rotate(-45) scale(1.0417,1)" font-size="8.98" text-anchor="end" >CNS+ B-ALL (n=9)</text>
<line x1="433.80" y1="273.80" x2="433.80" y2="277.80" stroke="#000" stroke-width="1.45"/>
<text transform="translate(435.70,283.60) rotate(-45) scale(1.0417,1)" font-size="8.98" text-anchor="end" >CNS- T-ALL (n=3)</text>
<line x1="453.10" y1="273.80" x2="453.10" y2="277.80" stroke="#000" stroke-width="1.45"/>
<text transform="translate(455.00,283.60) rotate(-45) scale(1.0417,1)" font-size="8.98" text-anchor="end" >CNS+ T-ALL (n=4)</text>
<line x1="472.40" y1="273.80" x2="472.40" y2="277.80" stroke="#000" stroke-width="1.45"/>
<text transform="translate(474.30,283.60) rotate(-45) scale(1.0417,1)" font-size="8.98" text-anchor="end" >CNS- B-ALL, CNS relapse (n=7)</text>
<line x1="491.70" y1="273.80" x2="491.70" y2="277.80" stroke="#000" stroke-width="1.45"/>
<text transform="translate(493.60,283.60) rotate(-45) scale(1.0417,1)" font-size="8.98" text-anchor="end" >CNS- T-ALL, CNS relapse (n=3)</text>
<line x1="511.00" y1="273.80" x2="511.00" y2="277.80" stroke="#000" stroke-width="1.45"/>
<text transform="translate(512.90,283.60) rotate(-45) scale(1.0417,1)" font-size="8.98" text-anchor="end" >t(1;19) BCP-ALL (n=45)</text>
<text transform="translate(294.2,276) rotate(-90) scale(1.0526,1)" font-size="8.64">% viable cells, surface MerTK<tspan font-size="5.89" dy="-3.1">pos</tspan></text>
<line x1="331.50" y1="268.50" x2="343.50" y2="268.50" stroke="#000" stroke-width="0.9"/>
<circle cx="341.00" cy="262.30" r="1.45" fill="#fff" stroke="#000" stroke-width="0.85"/>
<circle cx="333.80" cy="264.60" r="1.45" fill="#fff" stroke="#000" stroke-width="0.85"/>
<circle cx="337.30" cy="264.40" r="1.45" fill="#fff" stroke="#000" stroke-width="0.85"/>
<circle cx="340.80" cy="265.00" r="1.45" fill="#fff" stroke="#000" stroke-width="0.85"/>
<circle cx="333.00" cy="267.90" r="1.45" fill="#fff" stroke="#000" stroke-width="0.85"/>
<circle cx="335.60" cy="267.30" r="1.45" fill="#fff" stroke="#000" stroke-width="0.85"/>
<circle cx="339.00" cy="267.50" r="1.45" fill="#fff" stroke="#000" stroke-width="0.85"/>
<circle cx="342.00" cy="268.20" r="1.45" fill="#fff" stroke="#000" stroke-width="0.85"/>
<circle cx="337.30" cy="270.20" r="1.45" fill="#fff" stroke="#000" stroke-width="0.85"/>
<circle cx="335.30" cy="269.80" r="1.45" fill="#fff" stroke="#000" stroke-width="0.85"/>
<line x1="349.50" y1="189.10" x2="363.40" y2="189.10" stroke="#000" stroke-width="0.9"/>
<polygon points="351.25,183.74 354.95,183.74 353.10,187.06" fill="#fff" stroke="#111" stroke-width="0.75"/>
<polygon points="354.85,182.84 358.55,182.84 356.70,186.16" fill="#fff" stroke="#111" stroke-width="0.75"/>
<polygon points="354.25,189.74 357.95,189.74 356.10,193.06" fill="#fff" stroke="#111" stroke-width="0.75"/>
<polygon points="357.95,189.74 361.65,189.74 359.80,193.06" fill="#fff" stroke="#111" stroke-width="0.75"/>
<polygon points="352.75,184.74 356.45,184.74 354.60,188.06" fill="#fff" stroke="#111" stroke-width="0.75"/>
<line x1="368.80" y1="162.60" x2="381.60" y2="162.60" stroke="#000" stroke-width="0.9"/>
<polygon points="377.05,160.06 380.75,160.06 378.90,156.74" fill="#fff" stroke="#111" stroke-width="0.75"/>
<polygon points="370.65,162.47 374.35,162.47 372.50,159.14" fill="#fff" stroke="#111" stroke-width="0.75"/>
<polygon points="373.95,162.97 377.65,162.97 375.80,159.64" fill="#fff" stroke="#111" stroke-width="0.75"/>
<polygon points="377.75,162.86 381.45,162.86 379.60,159.53" fill="#fff" stroke="#111" stroke-width="0.75"/>
<polygon points="375.15,162.66 378.85,162.66 377.00,159.34" fill="#fff" stroke="#111" stroke-width="0.75"/>
<line x1="395.00" y1="264.00" x2="395.00" y2="267.60" stroke="#000" stroke-width="0.9"/>
<line x1="393.44" y1="264.90" x2="396.56" y2="266.70" stroke="#000" stroke-width="0.9"/>
<line x1="396.56" y1="264.90" x2="393.44" y2="266.70" stroke="#000" stroke-width="0.9"/>
<line x1="393.00" y1="265.50" x2="393.00" y2="269.10" stroke="#000" stroke-width="0.9"/>
<line x1="391.44" y1="266.40" x2="394.56" y2="268.20" stroke="#000" stroke-width="0.9"/>
<line x1="394.56" y1="266.40" x2="391.44" y2="268.20" stroke="#000" stroke-width="0.9"/>
<line x1="397.00" y1="265.50" x2="397.00" y2="269.10" stroke="#000" stroke-width="0.9"/>
<line x1="395.44" y1="266.40" x2="398.56" y2="268.20" stroke="#000" stroke-width="0.9"/>
<line x1="398.56" y1="266.40" x2="395.44" y2="268.20" stroke="#000" stroke-width="0.9"/>
<line x1="390.80" y1="267.00" x2="390.80" y2="270.60" stroke="#000" stroke-width="0.9"/>
<line x1="389.24" y1="267.90" x2="392.36" y2="269.70" stroke="#000" stroke-width="0.9"/>
<line x1="392.36" y1="267.90" x2="389.24" y2="269.70" stroke="#000" stroke-width="0.9"/>
<line x1="395.00" y1="266.80" x2="395.00" y2="270.40" stroke="#000" stroke-width="0.9"/>
<line x1="393.44" y1="267.70" x2="396.56" y2="269.50" stroke="#000" stroke-width="0.9"/>
<line x1="396.56" y1="267.70" x2="393.44" y2="269.50" stroke="#000" stroke-width="0.9"/>
<line x1="399.20" y1="267.00" x2="399.20" y2="270.60" stroke="#000" stroke-width="0.9"/>
<line x1="397.64" y1="267.90" x2="400.76" y2="269.70" stroke="#000" stroke-width="0.9"/>
<line x1="400.76" y1="267.90" x2="397.64" y2="269.70" stroke="#000" stroke-width="0.9"/>
<line x1="389.30" y1="268.50" x2="389.30" y2="272.10" stroke="#000" stroke-width="0.9"/>
<line x1="387.74" y1="269.40" x2="390.86" y2="271.20" stroke="#000" stroke-width="0.9"/>
<line x1="390.86" y1="269.40" x2="387.74" y2="271.20" stroke="#000" stroke-width="0.9"/>
<line x1="392.80" y1="268.50" x2="392.80" y2="272.10" stroke="#000" stroke-width="0.9"/>
<line x1="391.24" y1="269.40" x2="394.36" y2="271.20" stroke="#000" stroke-width="0.9"/>
<line x1="394.36" y1="269.40" x2="391.24" y2="271.20" stroke="#000" stroke-width="0.9"/>
<line x1="397.20" y1="268.50" x2="397.20" y2="272.10" stroke="#000" stroke-width="0.9"/>
<line x1="395.64" y1="269.40" x2="398.76" y2="271.20" stroke="#000" stroke-width="0.9"/>
<line x1="398.76" y1="269.40" x2="395.64" y2="271.20" stroke="#000" stroke-width="0.9"/>
<line x1="400.70" y1="268.50" x2="400.70" y2="272.10" stroke="#000" stroke-width="0.9"/>
<line x1="399.14" y1="269.40" x2="402.26" y2="271.20" stroke="#000" stroke-width="0.9"/>
<line x1="402.26" y1="269.40" x2="399.14" y2="271.20" stroke="#000" stroke-width="0.9"/>
<line x1="395.00" y1="269.60" x2="395.00" y2="273.20" stroke="#000" stroke-width="0.9"/>
<line x1="393.44" y1="270.50" x2="396.56" y2="272.30" stroke="#000" stroke-width="0.9"/>
<line x1="396.56" y1="270.50" x2="393.44" y2="272.30" stroke="#000" stroke-width="0.9"/>
<line x1="392.00" y1="270.00" x2="392.00" y2="273.60" stroke="#000" stroke-width="0.9"/>
<line x1="390.44" y1="270.90" x2="393.56" y2="272.70" stroke="#000" stroke-width="0.9"/>
<line x1="393.56" y1="270.90" x2="390.44" y2="272.70" stroke="#000" stroke-width="0.9"/>
<line x1="395.10" y1="222.80" x2="395.10" y2="227.00" stroke="#333" stroke-width="0.8"/>
<line x1="393.28" y1="223.85" x2="396.92" y2="225.95" stroke="#333" stroke-width="0.8"/>
<line x1="396.92" y1="223.85" x2="393.28" y2="225.95" stroke="#333" stroke-width="0.8"/>
<line x1="389.00" y1="270.00" x2="401.00" y2="270.00" stroke="#000" stroke-width="0.9"/>
<polygon points="409.30,266.30 411.10,264.50 412.90,266.30 411.10,268.10" fill="#000" stroke="none" stroke-width="0"/>
<polygon points="415.60,266.30 417.40,264.50 419.20,266.30 417.40,268.10" fill="#000" stroke="none" stroke-width="0"/>
<polygon points="407.80,267.60 409.60,265.80 411.40,267.60 409.60,269.40" fill="#000" stroke="none" stroke-width="0"/>
<polygon points="411.00,267.80 412.80,266.00 414.60,267.80 412.80,269.60" fill="#000" stroke="none" stroke-width="0"/>
<polygon points="414.00,267.80 415.80,266.00 417.60,267.80 415.80,269.60" fill="#000" stroke="none" stroke-width="0"/>
<polygon points="417.10,267.60 418.90,265.80 420.70,267.60 418.90,269.40" fill="#000" stroke="none" stroke-width="0"/>
<polygon points="410.80,269.60 412.60,267.80 414.40,269.60 412.60,271.40" fill="#000" stroke="none" stroke-width="0"/>
<polygon points="414.10,269.60 415.90,267.80 417.70,269.60 415.90,271.40" fill="#000" stroke="none" stroke-width="0"/>
<polygon points="412.40,271.30 414.20,269.50 416.00,271.30 414.20,273.10" fill="#000" stroke="none" stroke-width="0"/>
<line x1="408.50" y1="269.00" x2="420.50" y2="269.00" stroke="#000" stroke-width="0.9"/>
<line x1="427.60" y1="268.80" x2="438.30" y2="268.80" stroke="#000" stroke-width="0.9"/>
<circle cx="430.10" cy="265.40" r="1.65" fill="#fff" stroke="#222" stroke-width="0.8"/>
<circle cx="433.60" cy="269.40" r="1.65" fill="#fff" stroke="#222" stroke-width="0.8"/>
<circle cx="436.50" cy="269.40" r="1.65" fill="#fff" stroke="#222" stroke-width="0.8"/>
<line x1="447.00" y1="269.60" x2="459.00" y2="269.60" stroke="#000" stroke-width="0.9"/>
<rect x="450.40" y="261.60" width="3.4" height="3.4" fill="#fff" stroke="#000" stroke-width="0.85"/>
<circle cx="452.10" cy="263.30" r="0.6" fill="#000" stroke="none" stroke-width="0"/>
<rect x="447.50" y="267.70" width="3.4" height="3.4" fill="#fff" stroke="#000" stroke-width="0.85"/>
<circle cx="449.20" cy="269.40" r="0.6" fill="#000" stroke="none" stroke-width="0"/>
<rect x="452.10" y="269.10" width="3.4" height="3.4" fill="#fff" stroke="#000" stroke-width="0.85"/>
<circle cx="453.80" cy="270.80" r="0.6" fill="#000" stroke="none" stroke-width="0"/>
<rect x="455.00" y="269.20" width="3.4" height="3.4" fill="#fff" stroke="#000" stroke-width="0.85"/>
<circle cx="456.70" cy="270.90" r="0.6" fill="#000" stroke="none" stroke-width="0"/>
<line x1="466.00" y1="270.60" x2="478.00" y2="270.60" stroke="#000" stroke-width="0.9"/>
<circle cx="467.50" cy="268.30" r="1.35" fill="#fff" stroke="#000" stroke-width="0.9"/>
<circle cx="469.30" cy="269.60" r="1.35" fill="#fff" stroke="#000" stroke-width="0.9"/>
<circle cx="471.00" cy="271.00" r="1.35" fill="#fff" stroke="#000" stroke-width="0.9"/>
<circle cx="472.00" cy="272.20" r="1.35" fill="#fff" stroke="#000" stroke-width="0.9"/>
<circle cx="473.00" cy="271.00" r="1.35" fill="#fff" stroke="#000" stroke-width="0.9"/>
<circle cx="474.70" cy="269.60" r="1.35" fill="#fff" stroke="#000" stroke-width="0.9"/>
<circle cx="476.50" cy="268.30" r="1.35" fill="#fff" stroke="#000" stroke-width="0.9"/>
<line x1="485.00" y1="271.60" x2="497.00" y2="271.60" stroke="#000" stroke-width="0.9"/>
<rect x="485.70" y="269.30" width="3.6" height="3.6" fill="#fff" stroke="#000" stroke-width="0.9"/>
<rect x="492.40" y="269.30" width="3.6" height="3.6" fill="#fff" stroke="#000" stroke-width="0.9"/>
<rect x="488.60" y="271.40" width="3.6" height="3.6" fill="#fff" stroke="#000" stroke-width="0.9"/>
<polygon points="508.35,176.80 510.00,175.15 511.65,176.80 510.00,178.45" fill="#fff" stroke="#222" stroke-width="0.6"/>
<polygon points="508.35,185.00 510.00,183.35 511.65,185.00 510.00,186.65" fill="#fff" stroke="#222" stroke-width="0.6"/>
<polygon points="505.65,211.20 507.30,209.55 508.95,211.20 507.30,212.85" fill="#fff" stroke="#222" stroke-width="0.6"/>
<polygon points="510.95,211.20 512.60,209.55 514.25,211.20 512.60,212.85" fill="#fff" stroke="#222" stroke-width="0.6"/>
<polygon points="505.45,228.30 507.10,226.65 508.75,228.30 507.10,229.95" fill="#fff" stroke="#222" stroke-width="0.6"/>
<polygon points="507.25,229.80 508.90,228.15 510.55,229.80 508.90,231.45" fill="#fff" stroke="#222" stroke-width="0.6"/>
<polygon points="510.05,229.80 511.70,228.15 513.35,229.80 511.70,231.45" fill="#fff" stroke="#222" stroke-width="0.6"/>
<polygon points="511.85,228.00 513.50,226.35 515.15,228.00 513.50,229.65" fill="#fff" stroke="#222" stroke-width="0.6"/>
<polygon points="504.55,237.20 506.20,235.55 507.85,237.20 506.20,238.85" fill="#fff" stroke="#222" stroke-width="0.6"/>
<polygon points="512.85,236.30 514.50,234.65 516.15,236.30 514.50,237.95" fill="#fff" stroke="#222" stroke-width="0.6"/>
<polygon points="510.65,237.50 512.30,235.85 513.95,237.50 512.30,239.15" fill="#fff" stroke="#222" stroke-width="0.6"/>
<polygon points="506.65,239.70 508.30,238.05 509.95,239.70 508.30,241.35" fill="#fff" stroke="#222" stroke-width="0.6"/>
<polygon points="510.05,239.70 511.70,238.05 513.35,239.70 511.70,241.35" fill="#fff" stroke="#222" stroke-width="0.6"/>
<polygon points="504.15,241.50 505.80,239.85 507.45,241.50 505.80,243.15" fill="#fff" stroke="#222" stroke-width="0.6"/>
<polygon points="512.55,241.20 514.20,239.55 515.85,241.20 514.20,242.85" fill="#fff" stroke="#222" stroke-width="0.6"/>
<polygon points="508.15,241.80 509.80,240.15 511.45,241.80 509.80,243.45" fill="#fff" stroke="#222" stroke-width="0.6"/>
<polygon points="506.35,244.00 508.00,242.35 509.65,244.00 508.00,245.65" fill="#fff" stroke="#222" stroke-width="0.6"/>
<polygon points="510.65,244.30 512.30,242.65 513.95,244.30 512.30,245.95" fill="#fff" stroke="#222" stroke-width="0.6"/>
<polygon points="508.15,246.20 509.80,244.55 511.45,246.20 509.80,247.85" fill="#fff" stroke="#222" stroke-width="0.6"/>
<polygon points="504.55,252.50 506.20,250.85 507.85,252.50 506.20,254.15" fill="#fff" stroke="#222" stroke-width="0.6"/>
<polygon points="512.55,251.50 514.20,249.85 515.85,251.50 514.20,253.15" fill="#fff" stroke="#222" stroke-width="0.6"/>
<polygon points="503.35,254.40 505.00,252.75 506.65,254.40 505.00,256.05" fill="#fff" stroke="#222" stroke-width="0.6"/>
<polygon points="505.85,254.60 507.50,252.95 509.15,254.60 507.50,256.25" fill="#fff" stroke="#222" stroke-width="0.6"/>
<polygon points="508.35,254.60 510.00,252.95 511.65,254.60 510.00,256.25" fill="#fff" stroke="#222" stroke-width="0.6"/>
<polygon points="510.85,254.60 512.50,252.95 514.15,254.60 512.50,256.25" fill="#fff" stroke="#222" stroke-width="0.6"/>
<polygon points="513.35,254.40 515.00,252.75 516.65,254.40 515.00,256.05" fill="#fff" stroke="#222" stroke-width="0.6"/>
<polygon points="504.15,259.20 505.80,257.55 507.45,259.20 505.80,260.85" fill="#fff" stroke="#222" stroke-width="0.6"/>
<polygon points="511.25,258.30 512.90,256.65 514.55,258.30 512.90,259.95" fill="#fff" stroke="#222" stroke-width="0.6"/>
<polygon points="506.65,260.50 508.30,258.85 509.95,260.50 508.30,262.15" fill="#fff" stroke="#222" stroke-width="0.6"/>
<polygon points="509.35,261.30 511.00,259.65 512.65,261.30 511.00,262.95" fill="#fff" stroke="#222" stroke-width="0.6"/>
<polygon points="503.35,263.30 505.00,261.65 506.65,263.30 505.00,264.95" fill="#fff" stroke="#222" stroke-width="0.6"/>
<polygon points="514.35,263.30 516.00,261.65 517.65,263.30 516.00,264.95" fill="#fff" stroke="#222" stroke-width="0.6"/>
<polygon points="505.35,264.40 507.00,262.75 508.65,264.40 507.00,266.05" fill="#fff" stroke="#222" stroke-width="0.6"/>
<polygon points="512.35,264.40 514.00,262.75 515.65,264.40 514.00,266.05" fill="#fff" stroke="#222" stroke-width="0.6"/>
<polygon points="507.35,265.50 509.00,263.85 510.65,265.50 509.00,267.15" fill="#fff" stroke="#222" stroke-width="0.6"/>
<polygon points="510.35,265.50 512.00,263.85 513.65,265.50 512.00,267.15" fill="#fff" stroke="#222" stroke-width="0.6"/>
<polygon points="508.85,266.60 510.50,264.95 512.15,266.60 510.50,268.25" fill="#fff" stroke="#222" stroke-width="0.6"/>
<polygon points="502.85,265.20 504.50,263.55 506.15,265.20 504.50,266.85" fill="#fff" stroke="#222" stroke-width="0.6"/>
<polygon points="514.85,265.20 516.50,263.55 518.15,265.20 516.50,266.85" fill="#fff" stroke="#222" stroke-width="0.6"/>
<polygon points="504.85,266.40 506.50,264.75 508.15,266.40 506.50,268.05" fill="#fff" stroke="#222" stroke-width="0.6"/>
<polygon points="512.85,266.40 514.50,264.75 516.15,266.40 514.50,268.05" fill="#fff" stroke="#222" stroke-width="0.6"/>
<polygon points="506.85,267.60 508.50,265.95 510.15,267.60 508.50,269.25" fill="#fff" stroke="#222" stroke-width="0.6"/>
<polygon points="510.85,267.60 512.50,265.95 514.15,267.60 512.50,269.25" fill="#fff" stroke="#222" stroke-width="0.6"/>
<polygon points="508.85,268.80 510.50,267.15 512.15,268.80 510.50,270.45" fill="#fff" stroke="#222" stroke-width="0.6"/>
<polygon points="505.75,271.20 507.40,269.55 509.05,271.20 507.40,272.85" fill="#fff" stroke="#222" stroke-width="0.6"/>
<polygon points="512.15,270.30 513.80,268.65 515.45,270.30 513.80,271.95" fill="#fff" stroke="#222" stroke-width="0.6"/>
<line x1="503.40" y1="254.70" x2="516.60" y2="254.70" stroke="#000" stroke-width="1.1"/>
</g>
</svg>
</body></html>
